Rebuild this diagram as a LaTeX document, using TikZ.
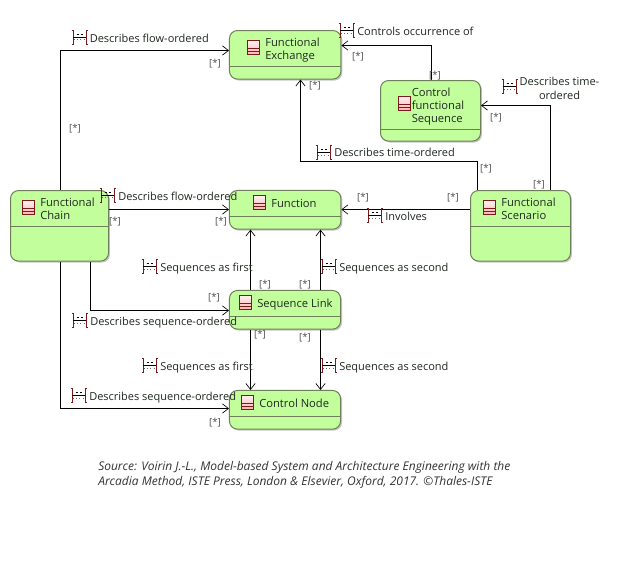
\documentclass[tikz,border=0pt]{standalone}
\usepackage{fontspec}
\setmainfont{Open Sans}
\usetikzlibrary{arrows.meta,shadows,positioning}
\definecolor{boxfill}{HTML}{C2FF9C}
\definecolor{boxline}{HTML}{6E7F5A}
\definecolor{iconline}{HTML}{7A1A1A}
\definecolor{txt}{HTML}{202820}
\tikzset{
 x=0.75pt,y=-0.75pt,
 cls/.style={draw=boxline,line width=0.75pt,fill=boxfill,rounded corners=6pt,inner sep=0pt,
   drop shadow={shadow xshift=1.1pt,shadow yshift=-1.1pt,fill=black!45,opacity=.5}},
 sepline/.style={draw=boxline,line width=0.75pt},
 conn/.style={draw=black,line width=0.75pt,-{Straight Barb[length=4.5pt,width=7pt,line width=.5pt]}},
 lab/.style={font=\fontsize{8.25pt}{10pt}\selectfont,text=txt,inner sep=0pt,anchor=base west},
 clsname/.style={font=\fontsize{8.4pt}{9.8pt}\selectfont,text=txt,inner sep=0pt,anchor=west,align=left},
 mult/.style={font=\fontsize{7.2pt}{9pt}\selectfont,text=black!70,inner sep=0pt},
 pics/stereo/.style={code={
   \draw[iconline,line width=.55pt] (-8,-7) -- (-6.5,-7) -- (-6.5,7) -- (-8,7);
   \draw[iconline,line width=.55pt] (8,-7) -- (6.5,-7) -- (6.5,7) -- (8,7);
   \draw[black,line width=.5pt] (-6.5,0) -- (6.5,0);
   \draw[black,line width=.5pt,dash pattern=on 2pt off 1pt] (-3,-2.7) -- (3,-2.7);
   \draw[black!60,line width=.4pt,dash pattern=on .8pt off 1.6pt] (-5.5,2.5) -- (5.5,2.5);
 }},
 pics/icon/.style={code={
   \draw[iconline,line width=.55pt,top color=red!6,bottom color=red!30] (-6.2,-7) rectangle (6.2,7);
   \draw[iconline,line width=.5pt] (-6.2,.6) -- (6.2,.6) (-6.2,3.7) -- (6.2,3.7);
 }},
}
\begin{document}
\begin{tikzpicture}
\path[use as bounding box,fill=white] (0,0) rectangle (624,561);
% classes
\node[cls,minimum width=83.6pt,minimum height=36.4pt] (fe) at (285.2,54.8) {};
\node[cls,minimum width=75pt,minimum height=45.4pt] (cfs) at (430.5,110.8) {};
\node[cls,minimum width=73.5pt,minimum height=52.9pt] (fc) at (59.5,225.8) {};
\node[cls,minimum width=83.6pt,minimum height=29pt] (fn) at (285.2,209.8) {};
\node[cls,minimum width=75pt,minimum height=52.9pt] (fs) at (520.5,225.8) {};
\node[cls,minimum width=83.3pt,minimum height=29pt] (sl) at (285,309.8) {};
\node[cls,minimum width=83.3pt,minimum height=29pt] (cn) at (285,409.8) {};
% compartment lines
\coordinate (s1) at (0,66.5); \draw[sepline] (fe.west |- s1) -- (fe.east |- s1);
\coordinate (s2) at (0,129.5); \draw[sepline] (cfs.west |- s2) -- (cfs.east |- s2);
\coordinate (s3) at (0,226.5); \draw[sepline] (fc.west |- s3) -- (fc.east |- s3);
\coordinate (s4) at (0,216.5); \draw[sepline] (fn.west |- s4) -- (fn.east |- s4);
\draw[sepline] (fs.west |- s3) -- (fs.east |- s3);
\coordinate (s5) at (0,316.5); \draw[sepline] (sl.west |- s5) -- (sl.east |- s5);
\coordinate (s6) at (0,416.5); \draw[sepline] (cn.west |- s6) -- (cn.east |- s6);
% icons
\pic at (253.5,47.5) {icon};
\pic at (404.5,103.5) {icon};
\pic at (28.5,207.5) {icon};
\pic at (259.5,202.5) {icon};
\pic at (489.5,207.5) {icon};
\pic at (245.5,302.5) {icon};
\pic at (247.5,402.5) {icon};
% class names
\node[clsname] (tfe) at (265,50) {Functional\\Exchange};
\node[clsname] (tcfs) at (411.5,106.5) {Control\\functional\\Sequence};
\node[clsname] (tfc) at (40,208.5) {Functional\\Chain};
\node[clsname] (tfn) at (271,203) {Function};
\node[clsname] (tfs) at (501,208.5) {Functional\\Scenario};
\node[clsname] (tsl) at (257,305) {Sequence Link};
\node[clsname] (tcn) at (259,403) {Control Node};
% connector routing points
\coordinate (x60) at (60,0); \coordinate (x90) at (90.5,0);
\coordinate (x250) at (250.5,0); \coordinate (x320) at (320.5,0);
\coordinate (x300) at (300.5,0); \coordinate (x431) at (431.5,0);
\coordinate (x477) at (477.5,0); \coordinate (x550) at (550.5,0);
\coordinate (y50) at (0,50.5); \coordinate (y45) at (0,45.5);
\coordinate (y105) at (0,105.5); \coordinate (y161) at (0,161.5);
\coordinate (y209) at (0,209.5); \coordinate (y310) at (0,310.5);
\coordinate (y408) at (0,408.5);
% connectors
\draw[conn] (fc.north -| x60) |- (fe.west |- y50);
\draw[conn] (fc.east |- y209) -- (fn.west |- y209);
\draw[conn] (fc.south -| x90) |- (sl.west |- y310);
\draw[conn] (fc.south -| x60) |- (cn.west |- y408);
\draw[conn] (fs.north -| x477) -- (x477 |- y161) -- (x300 |- y161) -- (fe.south -| x300);
\draw[conn] (cfs.north -| x431) |- (fe.east |- y45);
\draw[conn] (fs.north -| x550) |- (cfs.east |- y105);
\draw[conn] (fs.west |- y209) -- (fn.east |- y209);
\draw[conn] (sl.north -| x250) -- (fn.south -| x250);
\draw[conn] (sl.north -| x320) -- (fn.south -| x320);
\draw[conn] (sl.south -| x250) -- (cn.north -| x250);
\draw[conn] (sl.south -| x320) -- (cn.north -| x320);
% stereotype glyphs
\foreach \px/\py in {79.5/37,107.5/195,149.5/266.5,328.5/266.5,79.5/320.5,149.5/365.5,328.5/365.5,78.5/395.5,346.5/30.5,509.5/86.5,323.5/152.5,374.5/215.5}
  \pic at (\px,\py) {stereo};
% connector labels
\node[lab] (l1) at (89.5,42) {Describes flow-ordered};
\node[lab] (l2) at (118,200) {Describes flow-ordered};
\node[lab] (l3) at (160,271) {Sequences as first};
\node[lab] (l4) at (339,271) {Sequences as second};
\node[lab] (l5) at (90,325) {Describes sequence-ordered};
\node[lab] (l6) at (160,370) {Sequences as first};
\node[lab] (l7) at (339,370) {Sequences as second};
\node[lab] (l8) at (89,400) {Describes sequence-ordered};
\node[lab] (l9) at (357,35) {Controls occurrence of};
\node[lab,align=center,anchor=center] (l10) at (559.5,88.5) {Describes time-\\ordered};
\node[lab] (l11) at (334,156) {Describes time-ordered};
\node[lab] (l12) at (385,220) {Involves};
% multiplicities
\foreach \px/\py [count=\i] in {215/64,75/129,115/222,221/222,358/57,315/86,435/76,496/118,486/169,539/185,363/198,453/198,265/285,305/285,214/298,260/335,305/338,215/423}
  \node[mult] (m\i) at (\px,\py) {[*]};
% source
\node[font=\itshape\fontsize{9pt}{11.25pt}\selectfont,text=black!80,inner sep=0pt,anchor=north west,align=left] (src) at (98,461)
 {Source: Voirin J.-L., Model-based System and Architecture Engineering with the\\Arcadia Method, ISTE Press, London \& Elsevier, Oxford, 2017. ©Thales-ISTE};
\end{tikzpicture}
\end{document}
